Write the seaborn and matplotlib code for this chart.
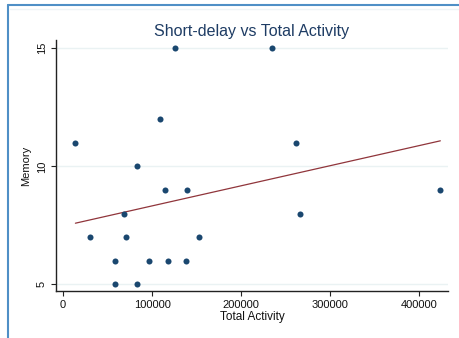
import matplotlib
matplotlib.use("Agg")
import matplotlib.pyplot as plt
import seaborn as sns
import numpy as np
import pandas as pd
from matplotlib.lines import Line2D

total_activity = [125300, 235000, 108900, 13800, 262200, 83100, 114800, 139500,
                  423900, 68800, 266400, 30600, 71100, 152200, 57900, 96100,
                  117900, 138100, 58700, 83100]
memory = [15, 15, 12, 11, 11, 10, 9, 9, 9, 8, 8, 7, 7, 7, 6, 6, 6, 6, 5, 5]
x_ticks = [0, 100000, 200000, 300000, 400000]
y_ticks = [5, 10, 15]

df = pd.DataFrame({"Total Activity": total_activity, "Memory": memory})

sns.set_style("white")
plt.rcParams['font.family'] = ['Liberation Sans', 'DejaVu Sans']

fig = plt.figure(figsize=(4.59, 3.38), dpi=100)
ax = fig.add_axes([56/459, 1-291/338, (448-56)/459, (291-40)/338])

for yv in y_ticks:
    ax.axhline(yv, color="#eaf2f3", lw=1.0, zorder=0)

sns.regplot(data=df, x="Total Activity", y="Memory", ax=ax, ci=None,
            scatter_kws=dict(s=19, color="#1a476f", linewidths=0, alpha=1, zorder=3),
            line_kws=dict(color="#90353b", lw=0.9, zorder=2))

ax.set_xlim(-8000, 432500)
ax.set_ylim(4.72, 15.35)
ax.set_xticks(x_ticks)
ax.set_xticklabels([str(v) for v in x_ticks], fontsize=8, color="#111111")
ax.set_yticks(y_ticks)
ax.set_yticklabels([str(v) for v in y_ticks], fontsize=8, rotation=90, va="center", color="#111111")
ax.tick_params(axis="both", length=3.6, width=0.8, color="#222222", pad=3, bottom=True, left=True)
for s in ["top", "right"]:
    ax.spines[s].set_visible(False)
for s in ["left", "bottom"]:
    ax.spines[s].set_color("#222222")
    ax.spines[s].set_linewidth(1.0)
ax.set_xlabel("Total Activity", fontsize=8.5, labelpad=0.8, color="#111111")
ax.set_ylabel("Memory", fontsize=8, labelpad=4, color="#111111")
ax.set_title("Short-delay vs Total Activity", fontsize=11.5, color="#1e3c64", pad=3)

# outer frame lines
fig.add_artist(Line2D([8/459, 8/459], [0, 1-5/338], transform=fig.transFigure, color="#4f8fc6", lw=1.5))
fig.add_artist(Line2D([8/459, 1], [1-5/338, 1-5/338], transform=fig.transFigure, color="#4f8fc6", lw=1.5))
fig.add_artist(Line2D([10/459, 1], [1-9/338, 1-9/338], transform=fig.transFigure, color="#eef4f6", lw=1.0))

fig.savefig("out.png", dpi=100, facecolor="white")
